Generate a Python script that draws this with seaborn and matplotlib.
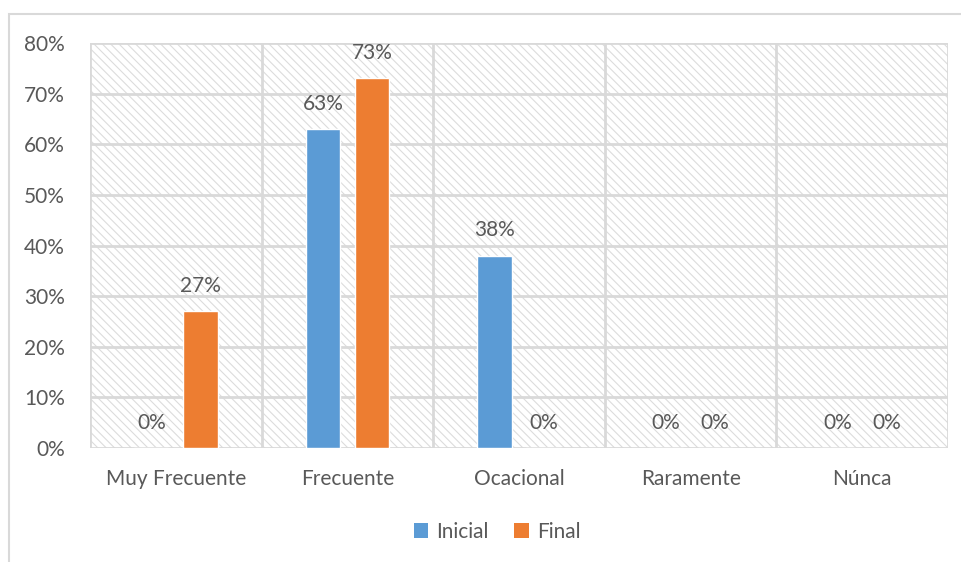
import matplotlib
matplotlib.use("Agg")
import matplotlib.pyplot as plt
from matplotlib.patches import Rectangle
import seaborn as sns
import pandas as pd

categories = ["Muy Frecuente", "Frecuente", "Ocacional", "Raramente", "Núnca"]
inicial = [0.00, 0.63, 0.38, 0.00, 0.00]
final = [0.27, 0.73, 0.00, 0.00, 0.00]
series = ["Inicial", "Final"]
y_ticks = [0.0, 0.1, 0.2, 0.3, 0.4, 0.5, 0.6, 0.7, 0.8]

colors = {"Inicial": "#5b9bd5", "Final": "#ed7d31"}
text_col = "#595959"
grid_col = "#d9d9d9"
fs = 15

df = pd.DataFrame({
    "Categoria": categories * 2,
    "Serie": [series[0]] * len(categories) + [series[1]] * len(categories),
    "Valor": inicial + final,
})

sns.set_theme(style="white")
plt.rcParams["font.family"] = ["Lato", "DejaVu Sans"]
plt.rcParams["hatch.color"] = "#dcdcdc"
plt.rcParams["hatch.linewidth"] = 0.8

fig = plt.figure(figsize=(9.62, 5.62), dpi=100)
W, H = 962, 562

# outer chart frame
fig.patches.append(Rectangle((9 / W, -0.1), 1.2, 1 - 14 / H + 0.1,
                             transform=fig.transFigure, facecolor="none",
                             edgecolor=grid_col, linewidth=1.5, zorder=-1))

ax = fig.add_axes([90 / W, 1 - 448 / H, (948 - 90) / W, (448 - 43) / H])
ax.set_facecolor("none")

# hatched plot area background
ax.add_patch(Rectangle((0, 0), 1, 1, transform=ax.transAxes, facecolor="white",
                       edgecolor="#dcdcdc", hatch="\\\\\\\\", linewidth=0, zorder=0))

sns.barplot(data=df, x="Categoria", y="Valor", hue="Serie", order=categories,
            hue_order=series, palette=colors, width=0.572, gap=0.3,
            saturation=1, ax=ax, legend=False, zorder=3)

ax.set_ylim(0, 0.8)
ax.set_xlim(-0.5, len(categories) - 0.5)
ax.set_yticks(y_ticks)
ax.set_yticklabels([f"{int(round(v * 100))}%" for v in y_ticks])
ax.set_xticks(range(len(categories)))
ax.set_xticklabels(categories)
ax.set_xlabel("")
ax.set_ylabel("")

# gridlines: horizontal at ticks, vertical at category boundaries
for v in y_ticks:
    ax.axhline(v, color=grid_col, linewidth=2, zorder=1)
for b in range(len(categories) + 1):
    ax.axvline(b - 0.5, color=grid_col, linewidth=2, zorder=1)

for s in ax.spines.values():
    s.set_visible(False)
ax.tick_params(axis="both", length=0, colors=text_col, labelsize=fs)
ax.tick_params(axis="y", pad=18)
ax.tick_params(axis="x", pad=15)

for cont, vals in zip(ax.containers, [inicial, final]):
    ax.bar_label(cont, labels=[f"{int(round(v * 100))}%" for v in vals],
                 padding=11, color=text_col, fontsize=fs)

handles = [Rectangle((0, 0), 1, 1, facecolor=colors[s], edgecolor="none") for s in series]
fig.legend(handles, series, loc="center", bbox_to_anchor=(497 / W, 1 - 532 / H),
           ncol=2, frameon=False, fontsize=fs, handlelength=0.7, handleheight=0.7,
           handletextpad=0.4, columnspacing=1.2, labelcolor=text_col)

fig.savefig("out.png", dpi=100)
